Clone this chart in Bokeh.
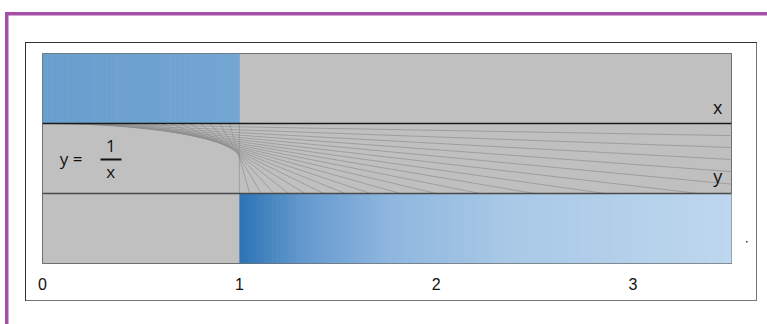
import numpy as np
from bokeh.plotting import figure
from bokeh.models import Label, FixedTicker
from bokeh.core.properties import value
from bokeh.embed import file_html
from bokeh.resources import INLINE

# ---- data ----
tick_values = [0, 1, 2, 3]
tick_labels = {0: "0", 1: "1", 2: "2", 3: "3"}
x_max = 3.5
# points x on the upper line and their images y = 1/x on the lower line
x_points = [0.05, 0.10, 0.15, 0.20, 0.25, 0.30, 0.35, 0.40, 0.45, 0.50,
            0.55, 0.60, 0.65, 0.70, 0.75, 0.80, 0.85, 0.90, 0.95, 1.00]
y_points = [20.0, 10.0, 6.667, 5.0, 4.0, 3.333, 2.857, 2.5, 2.222, 2.0,
            1.818, 1.667, 1.538, 1.429, 1.333, 1.25, 1.176, 1.111, 1.053, 1.0]
band_x_top, band_y_top = 3.0, 2.0
band_mid = 1.0
band_low = 0.0

# decorative frame (CSS background layers behind the transparent canvas border)
purple = "#a64fa8"
def bar(color, x, y, w, h):
    return f"linear-gradient({color},{color}) {x}px {y}px / {w}px {h}px no-repeat"
frame_css = ", ".join([
    bar(purple, 5, 11.5, 762, 3.5),
    bar(purple, 5, 11.5, 3.5, 313),
    bar("#333333", 25, 42, 732, 1),
    bar("#333333", 25, 42, 1, 259),
    bar("#777777", 756, 42, 1, 259),
    bar("#777777", 25, 300, 732, 1),
    bar("#333333", 746, 241, 1.5, 1.5),
]) + ", #ffffff"

W, H = 767, 324
p = figure(width=W, height=H, x_range=(0, x_max), y_range=(0, 3),
           output_backend="svg", toolbar_location=None,
           min_border_left=42, min_border_right=36, min_border_top=53, min_border_bottom=61,
           styles={"background": frame_css})
p.background_fill_color = "#c0c0c0"
p.border_fill_color = None
p.outline_line_color = "#555555"
p.xgrid.visible = False
p.ygrid.visible = False
p.yaxis.visible = False

xa = p.xaxis[0]
xa.ticker = FixedTicker(ticks=tick_values)
xa.major_label_overrides = tick_labels
xa.axis_line_color = None
xa.major_tick_line_color = None
xa.minor_tick_line_color = None
xa.major_label_text_font = "Liberation Sans"
xa.major_label_text_font_size = "16px"
xa.major_label_text_color = "#111111"
xa.major_label_standoff = 8

p.quad(left=0, right=x_max, bottom=0, top=3, fill_color="#c0c0c0", line_color=None)

# top blue rectangle [0,1]
n = 40
edges = np.linspace(0, 1, n + 1)
c0 = np.array([0x6a, 0x9e, 0xce]); c1 = np.array([0x73, 0xa6, 0xd3])
cols = ["#%02x%02x%02x" % tuple(int(v) for v in (c0 + (c1 - c0) * t)) for t in np.linspace(0, 1, n)]
p.quad(left=edges[:-1], right=edges[1:] + 0.002, bottom=band_y_top, top=band_x_top,
       fill_color=cols, line_color=None)

# bottom gradient [1, 3.5]
m = 120
edges = np.linspace(1, x_max, m + 1)
stops_t = [0.0, 0.12, 0.3, 0.55, 1.0]
stops_c = [(0x2e, 0x75, 0xb6), (0x62, 0x98, 0xcd), (0x8e, 0xb6, 0xde), (0xa9, 0xc9, 0xe7), (0xbd, 0xd7, 0xee)]
tt = np.linspace(0, 1, m)
rgb = np.stack([np.interp(tt, stops_t, [c[i] for c in stops_c]) for i in range(3)], axis=1)
gcols = ["#%02x%02x%02x" % tuple(int(round(v)) for v in row) for row in rgb]
p.quad(left=edges[:-1], right=edges[1:] + 0.003, bottom=band_low, top=band_mid,
       fill_color=gcols, line_color=None)

# reciprocal mapping lines
p.segment(x0=x_points, y0=[band_y_top] * len(x_points), x1=y_points, y1=[band_mid] * len(y_points),
          line_color="#8c8c8c", line_width=1, line_alpha=0.65)

# band boundary lines
p.segment(x0=[0, 0], y0=[band_y_top, band_mid], x1=[x_max, x_max], y1=[band_y_top, band_mid],
          line_color=["#1a1a1a", "#4a4a4a"], line_width=[1.3, 1.3])

font = "Open Sans"
p.text(x=[3.43], y=[2.23], text=["x"], text_font=value(font), text_font_size="18px",
       text_align="center", text_baseline="middle", text_color="#111111")
p.text(x=[3.43], y=[1.245], text=["y"], text_font=value(font), text_font_size="18px",
       text_align="center", text_baseline="middle", text_color="#111111")
p.text(x=[0.145], y=[1.5], text=["y ="], text_font=value(font), text_font_size="17px",
       text_align="center", text_baseline="middle", text_color="#111111")
p.text(x=[0.347], y=[1.68], text=["1"], text_font=value(font), text_font_size="17px",
       text_align="center", text_baseline="middle", text_color="#111111")
p.text(x=[0.347], y=[1.32], text=["x"], text_font=value(font), text_font_size="17px",
       text_align="center", text_baseline="middle", text_color="#111111")
p.segment(x0=[0.295], y0=[1.487], x1=[0.401], y1=[1.487], line_color="#111111", line_width=2)

open("out.html", "w").write(file_html(p, INLINE))
